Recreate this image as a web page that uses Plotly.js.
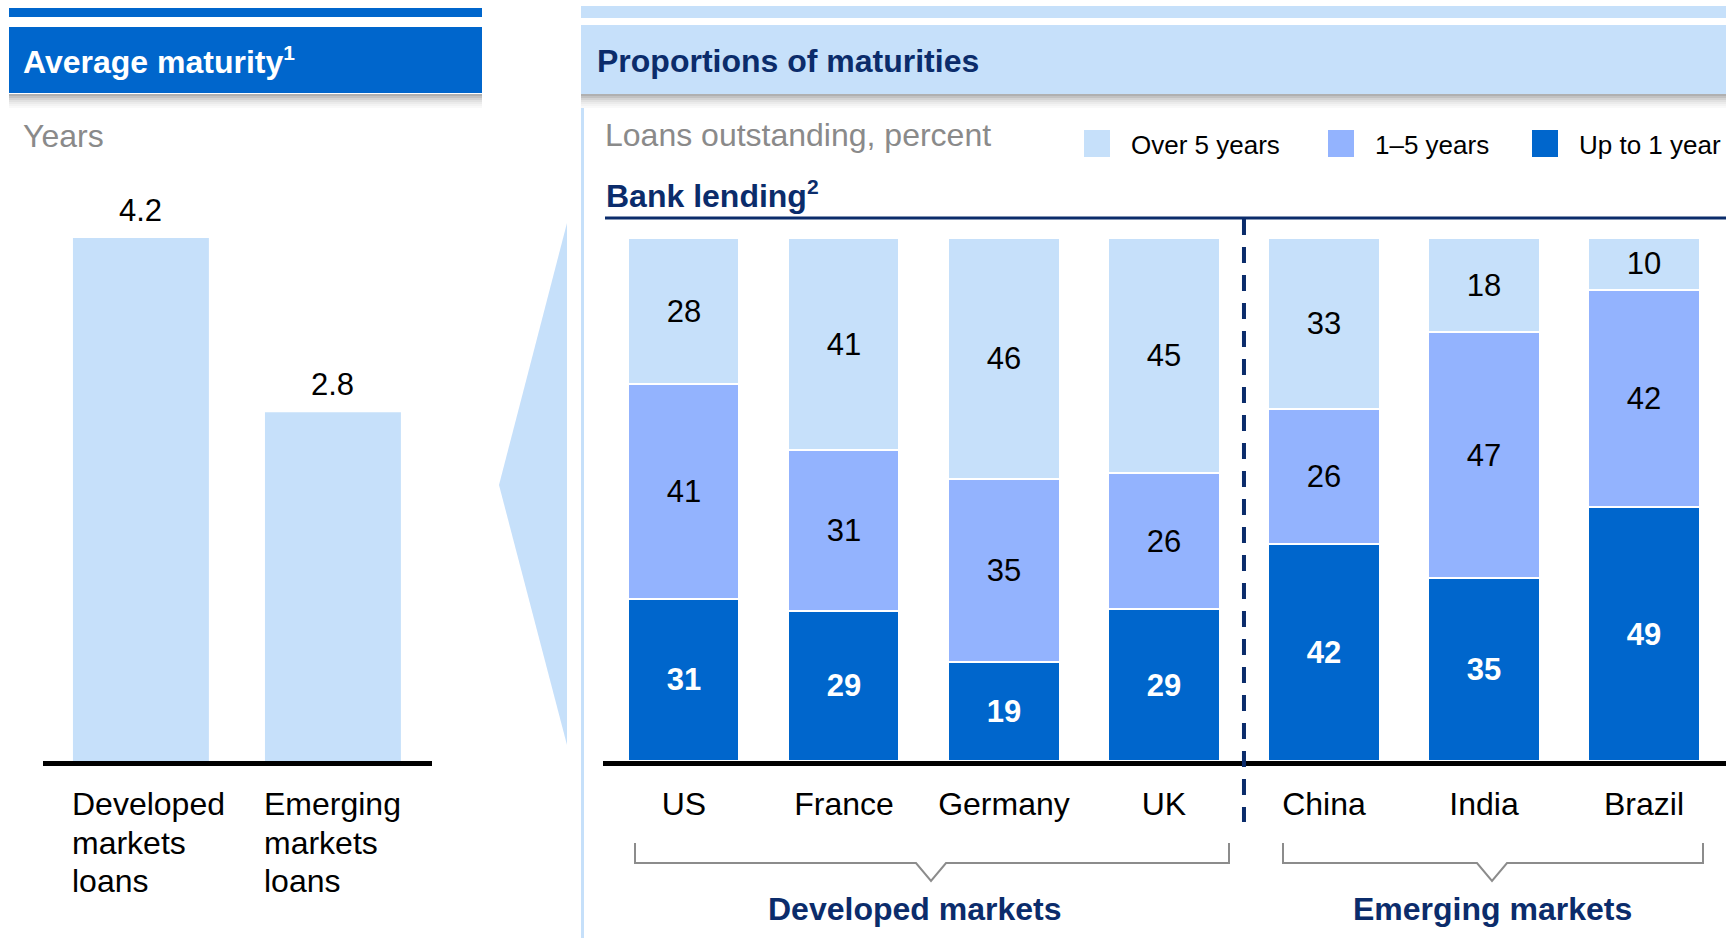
<!DOCTYPE html>
<html><head><meta charset="utf-8">
<script src="https://cdn.plot.ly/plotly-3.0.1.min.js"></script>
<style>
html,body{margin:0;padding:0;background:#fff;}
#wrap{position:relative;width:1726px;height:938px;}
#left,#right{position:absolute;left:0;top:0;width:1726px;height:938px;}
</style>
</head><body><div id="wrap"><div id="left"></div><div id="right"></div></div>
<script>
// ---------- data ----------
const avgCategories = ['Developed markets loans', 'Emerging markets loans'];
const avgLabels = ['Developed<br>markets<br>loans', 'Emerging<br>markets<br>loans'];
const avgYears = [4.2, 2.8];

const countries = ['US', 'France', 'Germany', 'UK', 'China', 'India', 'Brazil'];
const upTo1Year = [31, 29, 19, 29, 42, 35, 49];
const oneTo5Years = [41, 31, 35, 26, 26, 47, 42];
const over5Years = [28, 41, 46, 45, 33, 18, 10];
const seriesNames = ['Up to 1 year', '1–5 years', 'Over 5 years'];
const groupNames = ['Developed markets', 'Emerging markets'];

// ---------- style ----------
const W = 1726, H = 938;
const px = x => x / W;
const py = y => 1 - y / H;
const FONT = 'Liberation Sans, Arial, Helvetica, sans-serif';
const cDark = '#0066CC', cMid = '#93B3FE', cLight = '#C6E0FA';
const navy = '#0B2C6B', grayText = '#8A8A8A', bracketGray = '#8C8C8C';
const seriesColors = [cDark, cMid, cLight];
const seriesText = [
  {color: '#FFFFFF', size: 31, family: FONT, weight: 'bold'},
  {color: '#000000', size: 31, family: FONT},
  {color: '#000000', size: 31, family: FONT}
];
const yDomain = [py(761), py(238)];
const sup = s => `<sup><span style="font-size:21px">${s}</span></sup>`;

// ---------- left figure (average maturity + decorations) ----------
const leftTraces = [{
  type: 'bar', x: avgCategories, y: avgYears, xaxis: 'x', yaxis: 'y',
  marker: {color: cLight}, width: 0.708, hoverinfo: 'skip', showlegend: false
}];

const shadowCols = ['#B0B0B0', '#C2C2C2', '#D3D3D3', '#E1E1E1', '#EBEBEB', '#F3F3F3', '#F9F9F9'];
const leftShapes = [
  {type: 'rect', xref: 'paper', yref: 'paper', x0: px(9), x1: px(482), y0: py(17), y1: py(8), fillcolor: cDark, line: {width: 0}, layer: 'below'},
  {type: 'rect', xref: 'paper', yref: 'paper', x0: px(9), x1: px(482), y0: py(93), y1: py(27), fillcolor: cDark, line: {width: 0}, layer: 'below'},
  {type: 'rect', xref: 'paper', yref: 'paper', x0: px(581), x1: px(1726), y0: py(18), y1: py(6), fillcolor: cLight, line: {width: 0}, layer: 'below'},
  {type: 'rect', xref: 'paper', yref: 'paper', x0: px(581), x1: px(1726), y0: py(94), y1: py(25), fillcolor: cLight, line: {width: 0}, layer: 'below'},
  {type: 'rect', xref: 'paper', yref: 'paper', x0: px(581), x1: px(584), y0: py(938), y1: py(108), fillcolor: cLight, line: {width: 0}, layer: 'below'},
  {type: 'path', xref: 'paper', yref: 'paper',
   path: `M ${px(567)},${py(223)} L ${px(499)},${py(485)} L ${px(567)},${py(745)} Z`,
   fillcolor: cLight, line: {width: 0}, layer: 'below'}
];
shadowCols.forEach((c, i) => {
  const y0 = 94 + i * 2;
  leftShapes.push({type: 'rect', xref: 'paper', yref: 'paper', x0: px(9), x1: px(482), y0: py(y0 + 2), y1: py(y0), fillcolor: c, line: {width: 0}, layer: 'below'});
  leftShapes.push({type: 'rect', xref: 'paper', yref: 'paper', x0: px(581), x1: px(1726), y0: py(y0 + 2), y1: py(y0), fillcolor: c, line: {width: 0}, layer: 'below'});
});

const leftAnn = [
  {xref: 'paper', yref: 'paper', x: px(21), y: py(60), xanchor: 'left', yanchor: 'middle', showarrow: false,
   text: 'Average maturity' + sup('1'), font: {family: FONT, size: 32, color: '#FFFFFF', weight: 'bold'}},
  {xref: 'paper', yref: 'paper', x: px(21), y: py(136), xanchor: 'left', yanchor: 'middle', showarrow: false,
   text: 'Years', font: {family: FONT, size: 32, color: grayText}}
];
avgYears.forEach((v, i) => {
  leftAnn.push({xref: 'x', yref: 'y', x: i, y: v, yshift: 28, xanchor: 'center', yanchor: 'middle', showarrow: false,
    text: v.toFixed(1), font: {family: FONT, size: 31, color: '#000'}});
  avgLabels[i].split('<br>').forEach((line, k) => {
    leftAnn.push({xref: 'x', yref: 'paper', x: i - 0.354, xshift: -3, y: py(804 + k * 38.5), xanchor: 'left', yanchor: 'middle', showarrow: false,
      text: line, font: {family: FONT, size: 32, color: '#000'}});
  });
});

const leftLayout = {
  width: W, height: H, margin: {l: 0, r: 0, t: 0, b: 0},
  paper_bgcolor: '#FFFFFF', plot_bgcolor: 'rgba(0,0,0,0)', showlegend: false,
  xaxis: {domain: [px(43), px(432)], range: [-0.510, 1.516], type: 'category', showticklabels: false, ticks: '',
          showgrid: false, zeroline: false, showline: true, linecolor: '#000', linewidth: 5, fixedrange: true},
  yaxis: {domain: yDomain, range: [0, 4.2], showticklabels: false, showgrid: false, zeroline: false, showline: false, fixedrange: true},
  shapes: leftShapes, annotations: leftAnn
};

// ---------- right figure (proportions of maturities) ----------
const seriesValues = [upTo1Year, oneTo5Years, over5Years];
const rightTraces = seriesValues.map((vals, i) => ({
  type: 'bar', name: seriesNames[i], x: countries, y: vals, text: vals, texttemplate: '%{text}',
  textposition: 'inside', insidetextanchor: 'middle', constraintext: 'none',
  textfont: seriesText[i], insidetextfont: seriesText[i],
  marker: {color: seriesColors[i], line: {color: '#FFFFFF', width: 2}},
  width: 0.694, hoverinfo: 'skip', showlegend: false
}));

const rightShapes = [
  {type: 'line', xref: 'paper', yref: 'paper', x0: px(605), x1: px(1726), y0: py(218), y1: py(218), line: {color: navy, width: 3}},
  {type: 'line', xref: 'x', yref: 'paper', x0: 3.5, x1: 3.5, y0: py(219), y1: py(822), line: {color: navy, width: 4, dash: '16px,12px'}},
  {type: 'path', xref: 'paper', yref: 'paper', line: {color: bracketGray, width: 2},
   path: `M ${px(635)},${py(843)} L ${px(635)},${py(863)} L ${px(916)},${py(863)} L ${px(931)},${py(881)} L ${px(946)},${py(863)} L ${px(1229)},${py(863)} L ${px(1229)},${py(843)}`},
  {type: 'path', xref: 'paper', yref: 'paper', line: {color: bracketGray, width: 2},
   path: `M ${px(1283)},${py(843)} L ${px(1283)},${py(863)} L ${px(1477)},${py(863)} L ${px(1492)},${py(881)} L ${px(1507)},${py(863)} L ${px(1703)},${py(863)} L ${px(1703)},${py(843)}`}
];
const legendOrder = [2, 1, 0];
const legendSquareX = [1084, 1328, 1532];
const rightAnn = [
  {xref: 'paper', yref: 'paper', x: px(595), y: py(61), xanchor: 'left', yanchor: 'middle', showarrow: false,
   text: 'Proportions of maturities', font: {family: FONT, size: 32, color: navy, weight: 'bold'}},
  {xref: 'paper', yref: 'paper', x: px(603), y: py(135), xanchor: 'left', yanchor: 'middle', showarrow: false,
   text: 'Loans outstanding, percent', font: {family: FONT, size: 32, color: grayText}},
  {xref: 'paper', yref: 'paper', x: px(604), y: py(194), xanchor: 'left', yanchor: 'middle', showarrow: false,
   text: 'Bank lending' + sup('2'), font: {family: FONT, size: 32, color: navy, weight: 'bold'}}
];
legendOrder.forEach((s, k) => {
  const x0 = legendSquareX[k];
  rightShapes.push({type: 'rect', xref: 'paper', yref: 'paper', x0: px(x0), x1: px(x0 + 26), y0: py(157), y1: py(130),
    fillcolor: seriesColors[s], line: {width: 0}});
  rightAnn.push({xref: 'paper', yref: 'paper', x: px(x0 + 45), y: py(145), xanchor: 'left', yanchor: 'middle', showarrow: false,
    text: seriesNames[s], font: {family: FONT, size: 26, color: '#000'}});
});
const groupCenters = [914, 1492];
groupNames.forEach((g, i) => {
  rightAnn.push({xref: 'paper', yref: 'paper', x: px(groupCenters[i]), y: py(909), xanchor: 'center', yanchor: 'middle', showarrow: false,
    text: g, font: {family: FONT, size: 32, color: navy, weight: 'bold'}});
});

const rightLayout = {
  width: W, height: H, margin: {l: 0, r: 0, t: 0, b: 0},
  paper_bgcolor: 'rgba(0,0,0,0)', plot_bgcolor: 'rgba(0,0,0,0)', showlegend: false,
  barmode: 'stack', barnorm: 'percent',
  xaxis: {domain: [px(603), 1], range: [-0.506, 6.5125], type: 'category', ticks: '', ticklabelstandoff: 11,
          tickfont: {family: FONT, size: 32, color: '#000'},
          showgrid: false, zeroline: false, showline: true, linecolor: '#000', linewidth: 5, fixedrange: true},
  yaxis: {domain: yDomain, range: [0, 100], showticklabels: false, showgrid: false, zeroline: false, showline: false, fixedrange: true},
  shapes: rightShapes, annotations: rightAnn
};

const cfg = {staticPlot: true, displayModeBar: false};
Plotly.newPlot('left', leftTraces, leftLayout, cfg);
Plotly.newPlot('right', rightTraces, rightLayout, cfg);
</script>
</body></html>
